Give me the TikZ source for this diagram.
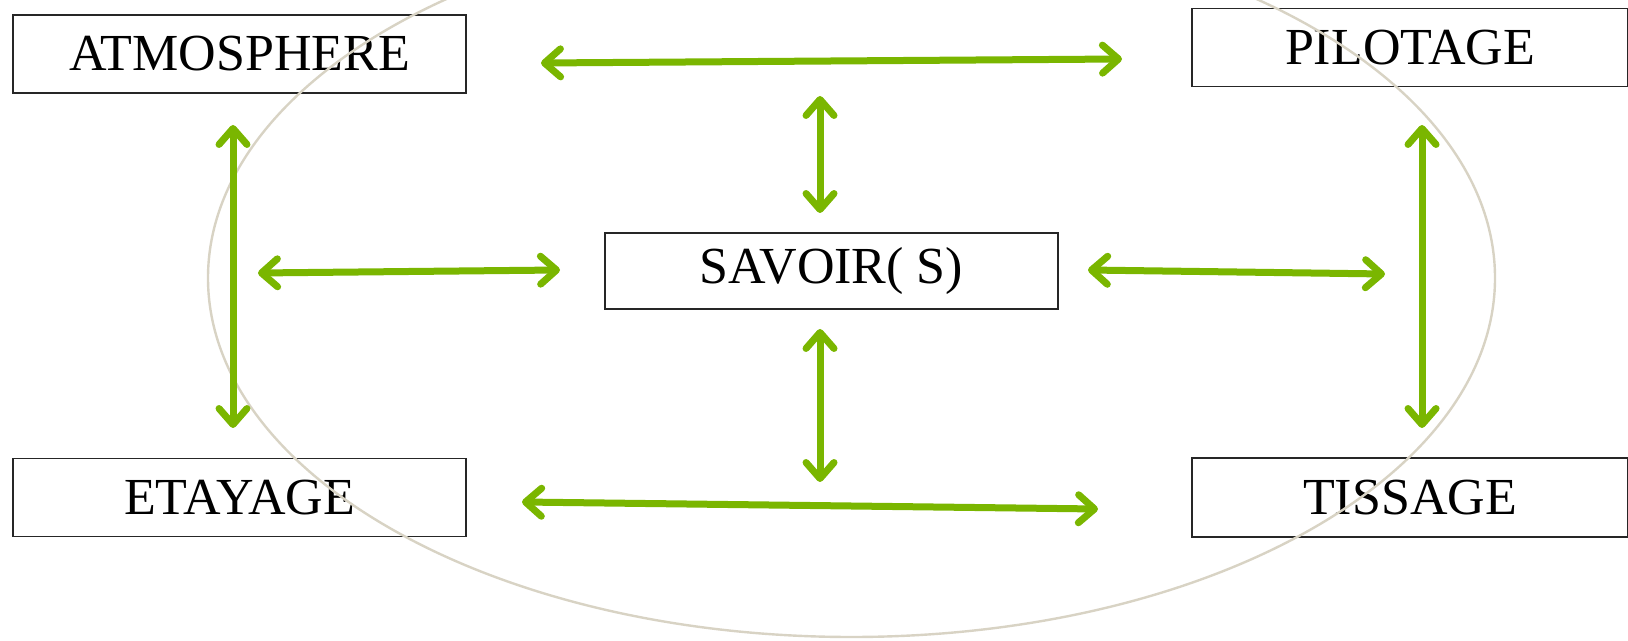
\documentclass[tikz,border=0pt]{standalone}
\usepackage{fontspec}
\setmainfont{Liberation Serif}
\usetikzlibrary{arrows.meta}
\definecolor{cgreen}{RGB}{122,182,0}
\definecolor{cbeige}{RGB}{216,211,196}

\begin{document}
\begin{tikzpicture}[x=0.5pt, y=-0.5pt,
      box/.style={draw=black!85, line width=0.9pt, fill=white, minimum width=226.5pt, minimum height=39pt,
                  font=\fontsize{26}{31}\selectfont, inner sep=0pt},
      barb/.tip={Straight Barb[length=8pt, width=14pt, line cap=round, line join=round]},
      arrow/.style={barb-barb, line width=3.5pt, cgreen},
      ring/.style={cbeige, line width=1.2pt}
    ]
    \useasboundingbox (0,0) rectangle (1628,641);
    \clip (0,0) rectangle (1628,641);
    \node[box] (atm) at (239.5,54) {ATMOSPHERE};
    \node[box, minimum width=218pt] (pil) at (1410,47.5) {PILOTAGE};
    \node[box, minimum height=38pt] (sav) at (831.5,271) {SAVOIR( S)};
    \node[box] (eta) at (239.5,497.5) {ETAYAGE};
    \node[box, minimum width=218pt, minimum height=39.5pt] (tis) at (1410,497.5) {TISSAGE};
    \draw[ring] (851.5,278) ellipse [x radius=643.5, y radius=359];
    \coordinate (topL) at (541,63);   \coordinate (topR) at (1122,59);
    \coordinate (midLa) at (258,273); \coordinate (midLb) at (560,270);
    \coordinate (midRa) at (1088,270); \coordinate (midRb) at (1385,274);
    \coordinate (botL) at (522,502);  \coordinate (botR) at (1098,509);
    \coordinate (upA) at (820,96);    \coordinate (upB) at (820,213);
    \coordinate (dnA) at (820,329);   \coordinate (dnB) at (820,482);
    \coordinate (lfA) at (233,125);   \coordinate (lfB) at (233,428);
    \coordinate (rtA) at (1422,125);  \coordinate (rtB) at (1422,428);
    \draw[arrow] (topL) -- (topR);
    \draw[arrow] (midLa) -- (midLb);
    \draw[arrow] (midRa) -- (midRb);
    \draw[arrow] (botL) -- (botR);
    \draw[arrow] (upA) -- (upB);
    \draw[arrow] (dnA) -- (dnB);
    \draw[arrow] (lfA) -- (lfB);
    \draw[arrow] (rtA) -- (rtB);
  \end{tikzpicture}
\end{document}
